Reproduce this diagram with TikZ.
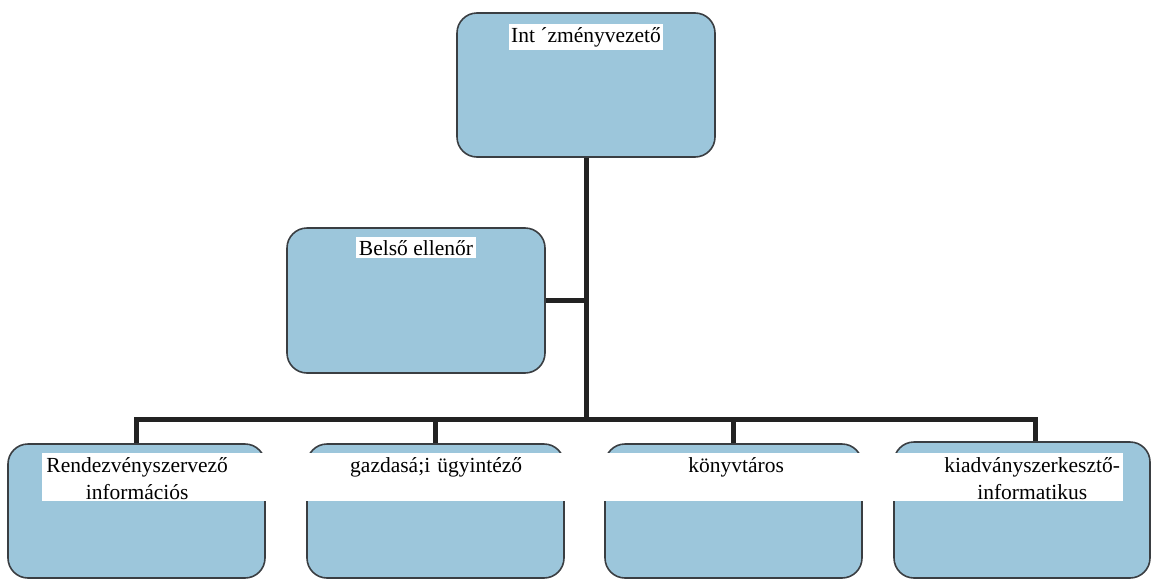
\documentclass[tikz,border=0pt]{standalone}
\usepackage{fontspec}
\setmainfont{Liberation Serif}
\usetikzlibrary{positioning}

\definecolor{unitblue}{RGB}{156,198,219}
\definecolor{unitedge}{RGB}{58,62,66}
\definecolor{linkdark}{RGB}{34,34,34}

\tikzset{
  unit/.style={draw=unitedge, line width=1.6pt, fill=unitblue, rounded corners=20pt,
    minimum width=258pt, minimum height=144pt, inner sep=0pt},
  tag/.style={fill=white, inner xsep=2.5pt, inner ysep=0pt, text height=18pt, text depth=8pt,
    font=\fontsize{21.5}{27}\selectfont},
  band/.style={fill=white, inner sep=0pt, text height=19pt, text depth=29pt,
    font=\fontsize{21.5}{27}\selectfont, anchor=north west},
  link/.style={draw=linkdark, line width=5pt}
}

\begin{document}
\begin{tikzpicture}[x=1pt, y=-1pt]
  \useasboundingbox (0,0) rectangle (1151,581);
  % boxes
  \node[unit] (chief) at (586,85) {};
  \node[unit, minimum height=145pt] (audit) at (416,300.5) {};
  \node[unit, minimum width=257pt, minimum height=134pt] (k1) at (136.5,511) {};
  \node[unit, minimum width=257pt, minimum height=134pt] (k2) at (435.5,511) {};
  \node[unit, minimum width=257pt, minimum height=134pt] (k3) at (733.5,511) {};
  \node[unit, minimum width=256pt, minimum height=136pt] (k4) at (1022,510) {};
  % labels
  \node[tag, below=12pt of chief.north] (chieftag) {Int ´zményvezető};
  \node[tag, text depth=3pt, below=10pt of audit.north] (audittag) {Belső ellenőr};
  \node[band, text width=263pt, align=left] (k1tag) at (42,453)
    {\makebox[190pt]{Rendezvényszervező}\\\makebox[190pt]{információs}};
  \node[band, text width=262pt, align=center] (k2tag) at (305,453) {gazdasá;i ügyintéző};
  \node[band, text width=264pt, align=center] (k3tag) at (604,453) {könyvtáros};
  \node[band, text width=255pt, align=right] (k4tag) at (868,453)
    {\makebox[182pt]{kiadványszerkesztő-}\\\makebox[182pt]{informatikus}};
  % links
  \coordinate (bus) at (586,419);
  \coordinate (k4top) at ([xshift=13pt]k4.north);
  \draw[link] (chief.south) -- (bus);
  \draw[link] (audit.east) -- (audit.east -| bus);
  \draw[link] (k1.north) -- (k1.north |- bus) -- (k4top |- bus) -- (k4top);
  \draw[link] (k2.north) -- (k2.north |- bus);
  \draw[link] (k3.north) -- (k3.north |- bus);
\end{tikzpicture}
\end{document}
